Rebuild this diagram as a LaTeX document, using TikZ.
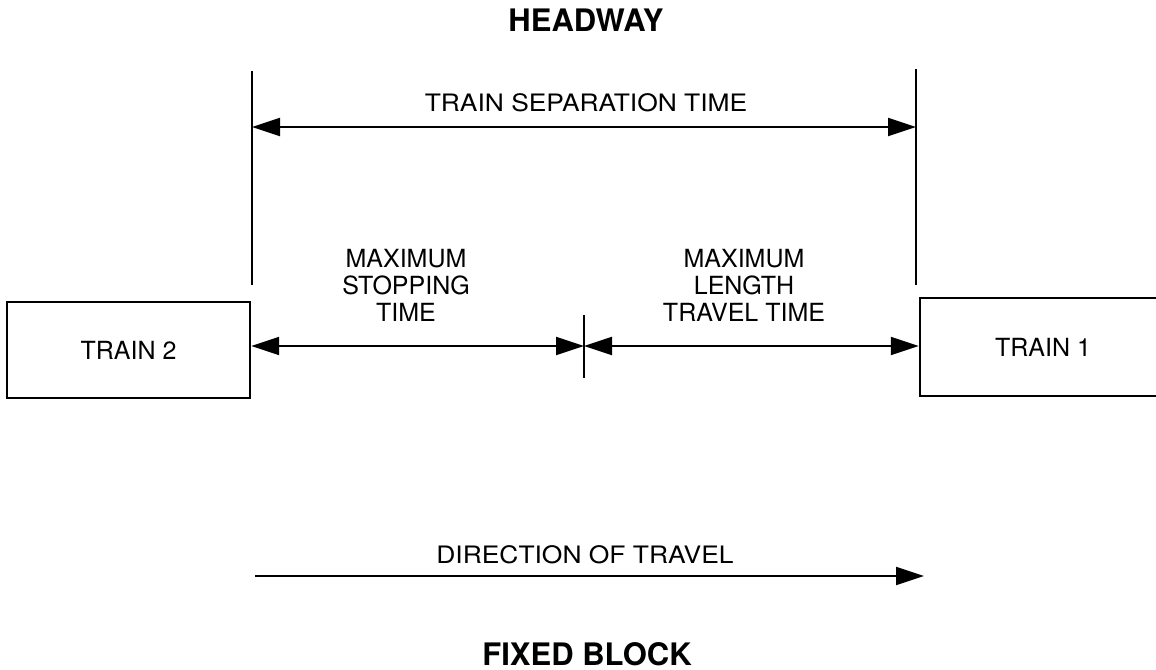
\documentclass[tikz,border=0pt]{standalone}
\usepackage{fontspec}
\setmainfont{TeX Gyre Heros}
\newfontfamily\wideheros[FakeStretch=1.1]{TeX Gyre Heros}
\usetikzlibrary{arrows.meta}

\tikzset{
	titlelbl/.style={font=\bfseries\fontsize{15.5}{18}\selectfont},
	spanlbl/.style={font=\wideheros\fontsize{12}{14}\selectfont},
	partlbl/.style={font=\fontsize{12.5}{13.5}\selectfont, align=center},
	trainbox/.style={draw, line width=1.2pt, font=\fontsize{12.5}{14}\selectfont},
	limitline/.style={line width=1pt},
	spanarrow/.style={line width=1pt, -{Triangle[length=14pt,width=9pt]}},
	spanboth/.style={line width=1pt, {Triangle[length=14pt,width=9pt]}-{Triangle[length=14pt,width=9pt]}},
}

\begin{document}
\begin{tikzpicture}[x=0.5pt, y=-0.5pt]

	\useasboundingbox (0,0) rectangle (1156,669);

	% trains
	\node[trainbox, minimum width=121.5pt, minimum height=48pt] (train2) at (128.5,350) {TRAIN 2};
	\node[trainbox, minimum width=123pt, minimum height=49pt] (train1) at (1043,347) {TRAIN 1};

	% separation limits
	\coordinate (sepL) at (252,71);
	\coordinate (sepR) at (916,69);
	\coordinate (stopL) at (252,285);
	\coordinate (stopR) at (916,285);
	\draw[limitline] (sepL) -- (stopL);
	\draw[limitline] (sepR) -- (stopR);

	% train separation time
	\coordinate (sepA) at (252,127);
	\coordinate (sepB) at (916,127);
	\draw[spanboth] (sepA) -- (sepB);
	\node[spanlbl] (septxt) at (586,103) {TRAIN SEPARATION TIME};

	% stopping time and length travel time
	\coordinate (split) at (584,346);
	\coordinate (splitT) at (584,315);
	\coordinate (splitB) at (584,378);
	\draw[limitline] (splitT) -- (splitB);
	\draw[spanboth] (split -| train2.east) -- (split);
	\draw[spanboth] (split) -- (split -| train1.west);
	\node[partlbl] (stoptxt) at (406,285) {MAXIMUM\\STOPPING\\TIME};
	\node[partlbl] (lentxt) at (744,285) {MAXIMUM\\LENGTH\\TRAVEL TIME};

	% direction of travel
	\coordinate (dirA) at (255,576);
	\coordinate (dirB) at (924,576);
	\draw[spanarrow] (dirA) -- (dirB);
	\node[spanlbl] (dirtxt) at (585,555) {DIRECTION OF TRAVEL};

	% titles
	\node[titlelbl] (headway) at (586,20) {HEADWAY};
	\node[titlelbl] (fixed) at (587,654) {FIXED BLOCK};

\end{tikzpicture}
\end{document}
